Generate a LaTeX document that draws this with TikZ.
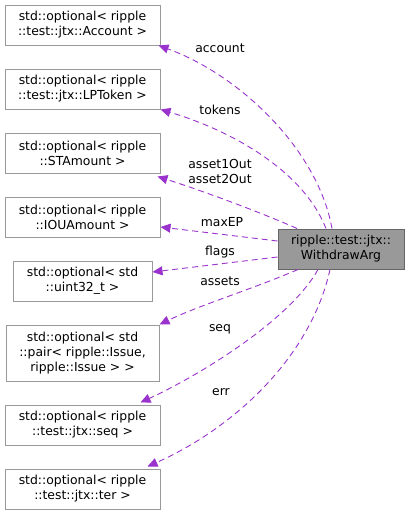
\documentclass[tikz,border=0pt]{standalone}
\usepackage{fontspec}
\setmainfont{DejaVu Sans}
\usetikzlibrary{arrows.meta}
\definecolor{edgec}{HTML}{9A32CD}
\definecolor{boxb}{HTML}{999999}
\definecolor{mainf}{HTML}{999999}
\definecolor{mainb}{HTML}{666666}
\begin{document}
\begin{tikzpicture}[x=1pt,y=-1pt,
  every node/.style={font=\fontsize{12.4}{15}\selectfont, align=center, inner sep=0pt},
  cls/.style={draw=boxb, line width=1pt, minimum height=40pt, minimum width=155pt},
  mainbox/.style={draw=mainb, fill=mainf, line width=1pt, minimum height=40pt, minimum width=126pt},
  rel/.style={draw=edgec, dashed, dash pattern=on 6pt off 4pt, line width=0.9pt, -{Triangle[length=10pt,width=9pt,fill=edgec]}},
  lab/.style={font=\fontsize{12.4}{15}\selectfont}
]
\useasboundingbox (0,0) rectangle (409,515);
\node[mainbox] (main) at (341,249) {ripple::test::jtx::\\WithdrawArg};
\node[cls] (acc) at (82.5,25) {std::optional< ripple\\::test::jtx::Account >};
\node[cls] (tok) at (82.5,89) {std::optional< ripple\\::test::jtx::LPToken >};
\node[cls] (sta) at (82.5,153) {std::optional< ripple\\::STAmount >};
\node[cls] (iou) at (82.5,217) {std::optional< ripple\\::IOUAmount >};
\node[cls, minimum width=139pt] (u32) at (82.5,281) {std::optional< std\\::uint32\_t >};
\node[cls, minimum width=153pt, minimum height=56pt] (pair) at (82.5,353) {std::optional< std\\::pair< ripple::Issue,\\ripple::Issue > >};
\node[cls] (seqb) at (82.5,425) {std::optional< ripple\\::test::jtx::seq >};
\node[cls] (ter) at (82.5,489) {std::optional< ripple\\::test::jtx::ter >};

\draw[rel] ([xshift=-9pt]main.north) .. controls (318,150) and (240,75) .. ([xshift=-2pt]acc.south east);
\draw[rel] ([xshift=-15pt]main.north) .. controls (303,170) and (230,130) .. (tok.south east);
\draw[rel] ([xshift=-44pt]main.north) .. controls (260,212) and (200,190) .. ([xshift=-3pt,yshift=-3pt]sta.south east);
\draw[rel] ([yshift=8pt]main.west) -- ([yshift=-10pt]iou.east);
\draw[rel] ([yshift=-8pt]main.west) -- ([yshift=9pt]u32.east);
\draw[rel] ([xshift=-43pt]main.south) .. controls (250,290) and (200,305) .. (pair.north east);
\draw[rel] ([xshift=-23pt]main.south) .. controls (290,320) and (200,375) .. ([xshift=-20pt,yshift=2pt]seqb.north east);
\draw[rel] ([xshift=-11pt]main.south) .. controls (310,360) and (230,430) .. ([xshift=-13pt,yshift=2pt]ter.north east);

\node[lab] (l1) at (220,48) {account};
\node[lab] (l2) at (220,110) {tokens};
\node[lab] (l3) at (220,171) {asset1Out\\asset2Out};
\node[lab] (l4) at (222,222) {maxEP};
\node[lab] (l5) at (220,252) {flags};
\node[lab] (l6) at (220,281) {assets};
\node[lab] (l7) at (220,329) {seq};
\node[lab] (l8) at (221,392) {err};
\end{tikzpicture}
\end{document}
